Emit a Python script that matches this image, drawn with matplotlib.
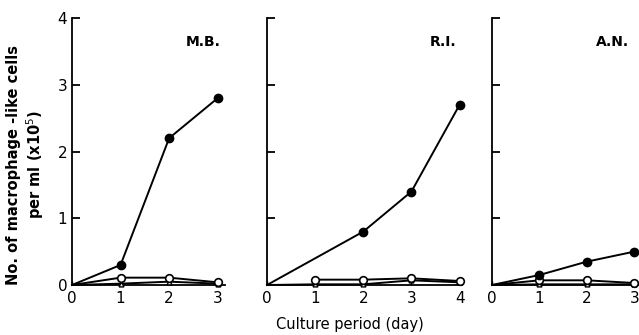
import matplotlib
matplotlib.use("Agg")
import matplotlib.pyplot as plt

days_mb = [0, 1, 2, 3]
mb_filled = [0, 0.3, 2.2, 2.8]
mb_open = [0, 0.11, 0.11, 0.04]
mb_tri = [0, 0.02, 0.05, 0.02]

days_ri = [0, 1, 2, 3, 4]
ri_filled_days = [0, 2, 3, 4]
ri_filled = [0, 0.8, 1.4, 2.7]
ri_open_days = [1, 2, 3, 4]
ri_open = [0.08, 0.08, 0.1, 0.06]
ri_tri = [0, 0.01, 0.01, 0.07, 0.04]

days_an = [0, 1, 2, 3]
an_filled = [0, 0.15, 0.35, 0.5]
an_open = [0, 0.07, 0.07, 0.03]
an_tri = [0, 0.01, 0.01, 0.01]

panel_labels = ["M.B.", "R.I.", "A.N."]
yticks = [0, 1, 2, 3, 4]

W, H = 639, 335
fig = plt.figure(figsize=(W / 100, H / 100), dpi=100)
bot = (H - 285) / H
hgt = (285 - 18) / H

def make_ax(left_px, right_px, xmax):
    ax = fig.add_axes([left_px / W, bot, (right_px - left_px) / W, hgt])
    ax.set_xlim(0, xmax)
    ax.set_ylim(0, 4)
    for s in ["top", "right"]:
        ax.spines[s].set_visible(False)
    for s in ["left", "bottom"]:
        ax.spines[s].set_linewidth(1.3)
    ax.tick_params(axis="y", direction="in", length=6, width=1.3, labelsize=11)
    ax.tick_params(axis="x", direction="in", length=3, width=1.0, labelsize=11, pad=4)
    ax.set_yticks(yticks)
    return ax

ax1 = make_ax(72, 225, 3.15)
ax2 = make_ax(267, 462, 4.05)
ax3 = make_ax(492, 639, 3.1)

lw = 1.4
skip0 = slice(1, None)
kw_f = dict(color="black", lw=lw, marker="o", ms=6, mfc="black", clip_on=False, zorder=4)
kw_o = dict(color="black", lw=lw, marker="o", ms=5.5, mfc="white", mew=1.2, clip_on=False, zorder=3)
kw_t = dict(color="black", lw=lw, marker="^", ms=3.5, mfc="white", clip_on=False, zorder=3)

ax1.plot(days_mb, mb_tri, markevery=skip0, **kw_t)
ax1.plot(days_mb, mb_open, markevery=skip0, **kw_o)
ax1.plot(days_mb, mb_filled, markevery=skip0, **kw_f)

ax2.plot(days_ri, ri_tri, markevery=skip0, **kw_t)
ax2.plot(ri_open_days, ri_open, **kw_o)
ax2.plot(ri_filled_days, ri_filled, markevery=skip0, **kw_f)

ax3.plot(days_an, an_tri, markevery=skip0, **kw_t)
ax3.plot(days_an, an_open, markevery=skip0, **kw_o)
ax3.plot(days_an, an_filled, markevery=skip0, **kw_f)

ax1.set_xticks([0, 1, 2, 3])
ax2.set_xticks([0, 1, 2, 3, 4])
ax3.set_xticks([0, 1, 2, 3])
ax2.set_yticklabels([])
ax3.set_yticklabels([])

for ax, lab in zip([ax1, ax2, ax3], panel_labels):
    ax.text(0.97 if ax is not ax3 else 0.93, 0.91, lab, transform=ax.transAxes,
            ha="right", va="center", fontsize=10, fontweight="bold")

ax1.set_ylabel("No. of macrophage -like cells\nper ml (x10$^5$)", fontsize=10.5,
               fontweight="bold")
ax1.yaxis.set_label_coords(-0.17, 0.45)
fig.text(350 / W, 1 - 325 / H, "Culture period (day)", ha="center", va="center",
         fontsize=10.5)

fig.savefig("out.png", dpi=100)
